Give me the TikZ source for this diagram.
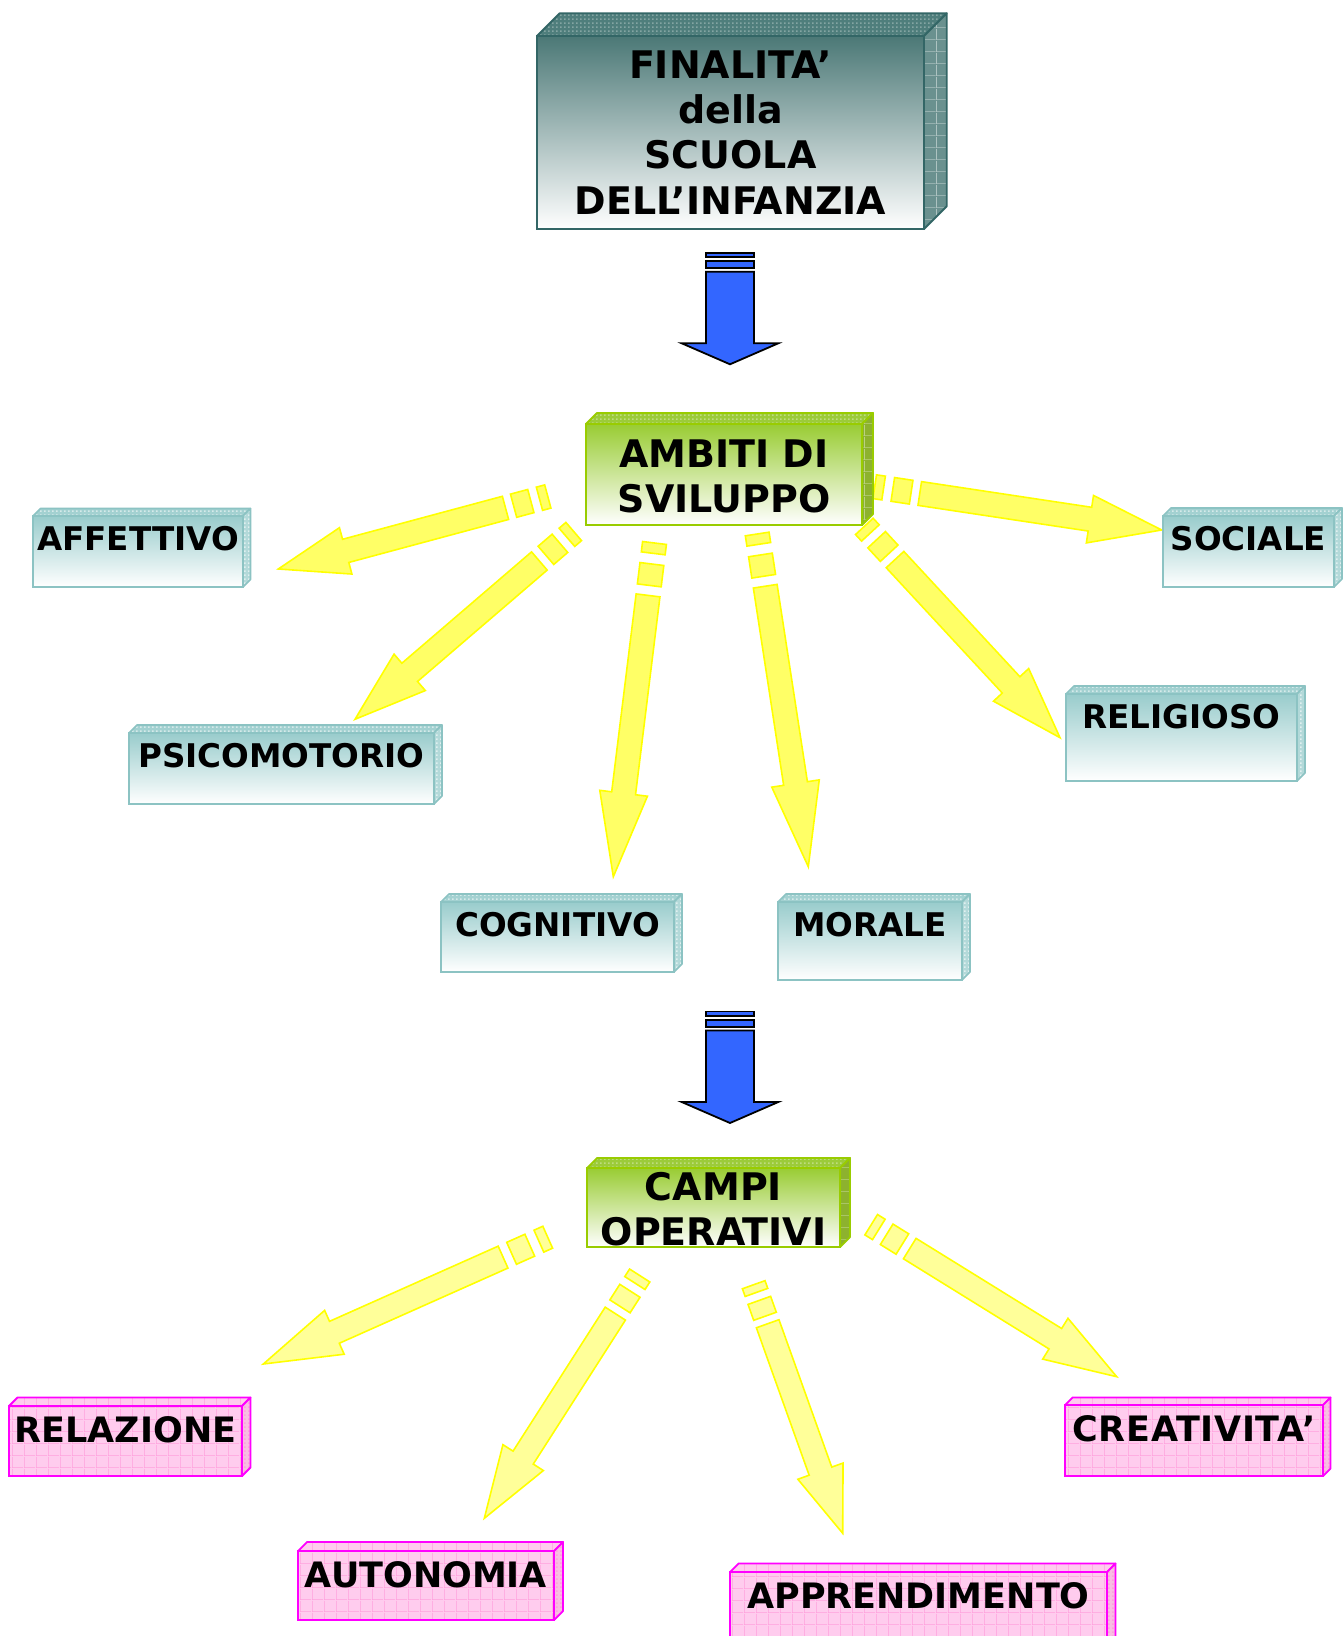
\documentclass[tikz,border=0pt]{standalone}
\usepackage{fontspec}
\setmainfont{DejaVu Sans}
\usetikzlibrary{patterns,calc}

\definecolor{tealtop}{HTML}{99CCCC}
\definecolor{tealline}{HTML}{8CC3C3}
\definecolor{tealside}{HTML}{A3D1D1}
\definecolor{tealside2}{HTML}{B3D9D9}
\definecolor{fintop}{HTML}{4B7876}
\definecolor{finline}{HTML}{336666}
\definecolor{finside}{HTML}{4F7E7C}
\definecolor{finside2}{HTML}{6A918F}
\definecolor{grtop}{HTML}{99CC33}
\definecolor{grline}{HTML}{99CC00}
\definecolor{grside}{HTML}{9CCB3A}
\definecolor{grside2}{HTML}{8DB22E}
\definecolor{pinkbg}{HTML}{FFCCEE}
\definecolor{pinkgrid}{HTML}{FF9FDD}
\definecolor{pinkline}{HTML}{FF00FF}
\definecolor{pinkside}{HTML}{F8BEE2}
\definecolor{blufill}{HTML}{3366FF}
\definecolor{yfillA}{HTML}{FFFF66}
\definecolor{yfillB}{HTML}{FFFF99}
\definecolor{yline}{HTML}{FFFF00}

\pgfdeclarepatternformonly{pgrid}{\pgfpointorigin}{\pgfpoint{6pt}{6pt}}{\pgfpoint{6pt}{6pt}}{%
  \pgfsetlinewidth{0.4pt}%
  \pgfpathmoveto{\pgfpoint{0pt}{0.2pt}}\pgfpathlineto{\pgfpoint{6pt}{0.2pt}}%
  \pgfpathmoveto{\pgfpoint{0.2pt}{0pt}}\pgfpathlineto{\pgfpoint{0.2pt}{6pt}}%
  \pgfusepath{stroke}}
\pgfdeclarepatternformonly{sdots}{\pgfpointorigin}{\pgfpoint{2pt}{2pt}}{\pgfpoint{2pt}{2pt}}{%
  \pgfpathrectangle{\pgfpointorigin}{\pgfpoint{1pt}{1pt}}\pgfusepath{fill}}

\tikzset{
  tealF/.style={draw=tealline, line width=0.8pt, top color=tealtop, bottom color=white},
  tealS/.style={preaction={fill=tealside}, pattern=sdots, pattern color=white!55!tealside, draw=tealline, line width=0.8pt, line join=round},
  tealR/.style={preaction={fill=tealside2}, pattern=sdots, pattern color=white!60!tealside2, draw=tealline, line width=0.8pt, line join=round},
  finF/.style={draw=finline, line width=0.9pt, top color=fintop, bottom color=white},
  finS/.style={preaction={fill=finside}, pattern=sdots, pattern color=white!30!finside, draw=finline, line width=0.9pt, line join=round},
  finR/.style={preaction={fill=finside2}, pattern=pgrid, pattern color=white!45!finside2, draw=finline, line width=0.9pt, line join=round},
  grF/.style={draw=grline, line width=0.9pt, top color=grtop, bottom color=white},
  grS/.style={preaction={fill=grside}, pattern=sdots, pattern color=white!35!grside, draw=grline, line width=0.9pt, line join=round},
  grR/.style={preaction={fill=grside2}, pattern=pgrid, pattern color=white!40!grside2, draw=grline, line width=0.9pt, line join=round},
  pinkF/.style={preaction={fill=pinkbg}, pattern=pgrid, pattern color=pinkgrid, draw=pinkline, line width=0.9pt},
  pinkS/.style={preaction={fill=pinkbg}, pattern=pgrid, pattern color=pinkgrid, draw=pinkline, line width=0.9pt, line join=round},
  pinkR/.style={preaction={fill=pinkside}, pattern=sdots, pattern color=pinkgrid, draw=pinkline, line width=0.9pt, line join=round},
  bigtxt/.style={font=\fontsize{19}{22.6}\selectfont\bfseries, align=center, inner sep=0pt},
  lblT/.style={font=\fontsize{16.3}{19}\selectfont\bfseries, inner sep=0pt, anchor=base},
  lblP/.style={font=\fontsize{17.5}{20}\selectfont\bfseries, inner sep=0pt, anchor=base},
  bluA/.style={fill=blufill, draw=black, line width=0.9pt, line join=miter},
  yarrA/.style={fill=yfillA, draw=yline, line width=0.8pt, line join=miter},
  yarrB/.style={fill=yfillB, draw=yline, line width=0.8pt, line join=miter},
}

% 3D box: name, x1, y1, x2, y2, depth, style prefix
\newcommand\cubebox[7]{%
  \pgfmathsetmacro\cbw{(#4-#2)*0.5}%
  \pgfmathsetmacro\cbh{(#5-#3)*0.5}%
  \path[#7S] (#2,#3) -- (#2+#6,#3-#6) -- (#4+#6,#3-#6) -- (#4,#3) -- cycle;
  \path[#7R] (#4,#3) -- (#4+#6,#3-#6) -- (#4+#6,#5-#6) -- (#4,#5) -- cycle;
  \node[#7F, minimum width=\cbw pt, minimum height=\cbh pt, anchor=north west, inner sep=0pt, outer sep=0pt] (#1) at (#2,#3) {};
}

\newcommand\bluearrow[1]{%
  \begin{scope}[shift={(#1)}]
    \path[bluA] (-24,0) rectangle (24,4.6);
    \path[bluA] (-24,8.6) rectangle (24,15.6);
    \path[bluA] (-24,19) -- (-24,90.6) -- (-48.3,90.6) -- (0,111.6) -- (48.3,90.6) -- (24,90.6) -- (24,19) -- cycle;
  \end{scope}}

\makeatletter
\newcommand\yarrow[3]{%
  \pgfpointdiff{\pgfpointanchor{#2}{center}}{\pgfpointanchor{#3}{center}}%
  \edef\ydx{\strip@pt\pgf@x}\edef\ydy{\strip@pt\pgf@y}%
  \pgfmathsetmacro\yL{2*veclen(\ydx,\ydy)}%
  \pgfmathsetmacro\yA{atan2(\ydy,\ydx)}%
  \pgfmathsetmacro\yPa{0.031*\yL}%
  \pgfmathsetmacro\yPb{0.063*\yL}%
  \pgfmathsetmacro\yPc{0.127*\yL}%
  \pgfmathsetmacro\yPd{0.157*\yL}%
  \pgfmathsetmacro\yB{0.75*\yL}%
  \begin{scope}[shift={(#2)},rotate=\yA,x=0.5pt,y=0.5pt]
    \path[#1] (0,-12) rectangle (\yPa,12);
    \path[#1] (\yPb,-12) rectangle (\yPc,12);
    \path[#1] (\yPd,-12) -- (\yB,-12) -- (\yB,-24) -- (\yL,0) -- (\yB,24) -- (\yB,12) -- (\yPd,12) -- cycle;
  \end{scope}}
\makeatother

\begin{document}
\begin{tikzpicture}[x=0.5pt,y=-0.5pt]
\useasboundingbox (0,0) rectangle (1342,1636);
\fill[white] (0,0) rectangle (1342,1636);

% arrow end points
\coordinate (affS) at (547.8,496.5);  \coordinate (affT) at (278.3,569);
\coordinate (psiS) at (573.7,531.5);  \coordinate (psiT) at (355,719.3);
\coordinate (cogS) at (654.5,543);    \coordinate (cogT) at (613.3,876.7);
\coordinate (morS) at (757.2,534);    \coordinate (morT) at (808.3,866.7);
\coordinate (socS) at (874.7,486.7);  \coordinate (socT) at (1161.7,530);
\coordinate (relS) at (864.3,526.4);  \coordinate (relT) at (1060,737.7);
\coordinate (rlzS) at (547.7,1237.2); \coordinate (rlzT) at (263.3,1364);
\coordinate (autS) at (639.7,1275.5); \coordinate (autT) at (484.3,1518.3);
\coordinate (appS) at (753.7,1284.7); \coordinate (appT) at (842.7,1533.3);
\coordinate (creS) at (871.2,1224.7); \coordinate (creT) at (1116.7,1376.7);
\coordinate (blu1) at (730,252.7);
\coordinate (blu2) at (730,1011.4);

% yellow arrows
\yarrow{yarrA}{affS}{affT}
\yarrow{yarrA}{psiS}{psiT}
\yarrow{yarrA}{cogS}{cogT}
\yarrow{yarrA}{morS}{morT}
\yarrow{yarrA}{socS}{socT}
\yarrow{yarrA}{relS}{relT}
\yarrow{yarrB}{rlzS}{rlzT}
\yarrow{yarrB}{autS}{autT}
\yarrow{yarrB}{appS}{appT}
\yarrow{yarrB}{creS}{creT}

% blue arrows
\bluearrow{blu1}
\bluearrow{blu2}

% main boxes
\cubebox{fin}{537}{36}{924}{229}{22.7}{fin}
\node[bigtxt] (fin-l) at (fin.center) {FINALITA’\\della\\SCUOLA\\DELL’INFANZIA};

\cubebox{amb}{586}{424}{862}{525}{11}{gr}
\node[bigtxt] (amb-l) at ([yshift=-1pt]amb.center) {AMBITI DI\\SVILUPPO};

\cubebox{cam}{587}{1168}{840}{1247}{10}{gr}
\node[bigtxt] (cam-l) at ([yshift=-1pt]cam.center) {CAMPI\\OPERATIVI};

% teal boxes
\cubebox{aff}{33}{516}{243}{587}{7.5}{teal}
\node[lblT] (aff-l) at ([yshift=-17.25pt]aff.north) {AFFETTIVO};
\cubebox{soc}{1163}{516}{1334}{587}{8}{teal}
\node[lblT] (soc-l) at ([yshift=-17.25pt]soc.north) {SOCIALE};
\cubebox{psi}{129}{733}{434}{804}{8}{teal}
\node[lblT] (psi-l) at ([yshift=-17.25pt]psi.north) {PSICOMOTORIO};
\cubebox{rel}{1066}{694}{1297}{781}{8}{teal}
\node[lblT] (rel-l) at ([yshift=-17.25pt]rel.north) {RELIGIOSO};
\cubebox{cog}{441}{902}{674}{972}{8}{teal}
\node[lblT] (cog-l) at ([yshift=-17.25pt]cog.north) {COGNITIVO};
\cubebox{mor}{778}{902}{962}{980}{8}{teal}
\node[lblT] (mor-l) at ([yshift=-17.25pt]mor.north) {MORALE};

% pink boxes
\cubebox{rlz}{9}{1406}{242}{1476}{8.5}{pink}
\node[lblP] (rlz-l) at ([yshift=-18pt]rlz.north) {RELAZIONE};
\cubebox{cre}{1065}{1405}{1323}{1476}{7.5}{pink}
\node[lblP, font=\fontsize{17.5}{20}\selectfont\bfseries\addfontfeatures{LetterSpace=2}] (cre-l) at ([yshift=-18pt]cre.north) {CREATIVITA’};
\cubebox{aut}{298}{1551}{554}{1620}{9}{pink}
\node[lblP] (aut-l) at ([yshift=-18pt]aut.north) {AUTONOMIA};
\cubebox{app}{730}{1572}{1107}{1660}{8.5}{pink}
\node[lblP] (app-l) at ([yshift=-18pt]app.north) {APPRENDIMENTO};
\end{tikzpicture}
\end{document}
